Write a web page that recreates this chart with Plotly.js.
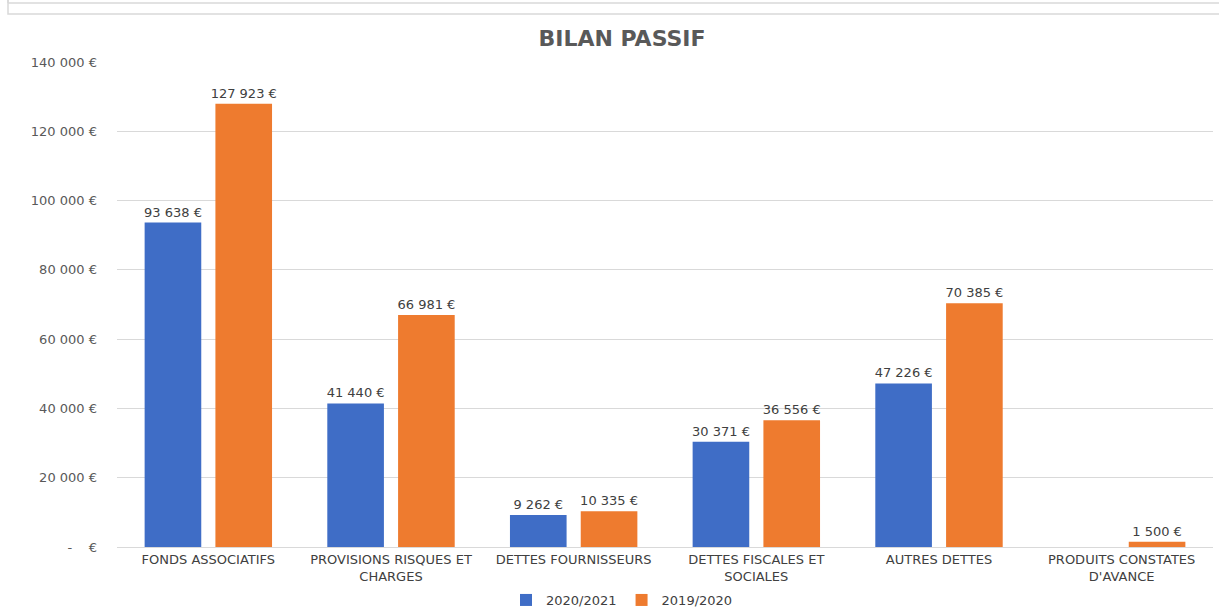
<!DOCTYPE html>
<html><head><meta charset="utf-8">
<script src="https://cdn.plot.ly/plotly-3.0.1.min.js"></script>
<style>html,body{margin:0;padding:0;background:#fff;}#chart{width:1219px;height:608px;}</style>
</head><body><div id="chart"></div>
<script>
const categories = ["FONDS ASSOCIATIFS","PROVISIONS RISQUES ET<br>CHARGES","DETTES FOURNISSEURS","DETTES FISCALES ET<br>SOCIALES","AUTRES DETTES","PRODUITS CONSTATES<br>D'AVANCE"];
const series1Name = "2020/2021";
const series1 = [93638, 41440, 9262, 30371, 47226, 0];
const series2Name = "2019/2020";
const series2 = [127923, 66981, 10335, 36556, 70385, 1500];
const tickVals = [0, 20000, 40000, 60000, 80000, 100000, 120000, 140000];
const tickText = ["-    €", "20 000 €", "40 000 €", "60 000 €", "80 000 €", "100 000 €", "120 000 €", "140 000 €"];

function fmt(v){ if(!v) return ""; return String(v).replace(/\B(?=(\d{3})+(?!\d))/g, " ") + " €"; }

const W = 1219, H = 608, L = 117, R = 6, T = 62, B = 61;
const pw = W - L - R, ph = H - T - B;
const px = x => (x - L) / pw;
const py = y => (H - B - y) / ph;
const FONT = "'DejaVu Sans', sans-serif";

const common = {type:"bar", textposition:"outside", cliponaxis:false, constraintext:"none",
  textfont:{family:FONT, size:13, color:"#404040"}, hoverinfo:"skip"};

const data = [
  Object.assign({}, common, {x:categories, y:series1, name:series1Name, text:series1.map(fmt),
    marker:{color:"#3f6dc6"}}),
  Object.assign({}, common, {x:categories, y:series2, name:series2Name, text:series2.map(fmt),
    marker:{color:"#ee7b2f"}})
];

const layout = {
  width:W, height:H,
  margin:{l:L, r:R, t:T, b:B, autoexpand:false},
  paper_bgcolor:"#fff", plot_bgcolor:"#fff",
  font:{family:FONT, color:"#595959", size:12},
  title:{text:"<b>BILAN PASSIF</b>", xref:"container", x:622/W, xanchor:"center", yref:"container", y:1-38/H, yanchor:"middle",
    font:{size:22, color:"#595959", family:FONT}},
  barmode:"group", bargap:0.225, bargroupgap:0.2,
  showlegend:true,
  legend:{orientation:"h", xref:"container", yref:"container", x:622/W, xanchor:"center", y:1-600/H, yanchor:"middle",
    font:{size:13, color:"#404040", family:FONT}, itemwidth:30, traceorder:"normal", bgcolor:"rgba(0,0,0,0)"},
  xaxis:{type:"category", showgrid:false, zeroline:false, showline:true, linecolor:"#d9d9d9", linewidth:1,
    ticks:"", tickfont:{size:13, color:"#404040", family:FONT}, automargin:false},
  yaxis:{range:[0,140000], tickvals:tickVals, ticktext:tickText, showgrid:true, gridcolor:"#d9d9d9",
    gridwidth:1, zeroline:false, showline:false, ticks:"", tickfont:{size:13, color:"#595959", family:FONT}, automargin:false,
    ticklabelstandoff:19},
  shapes:[
    {type:"rect", xref:"paper", yref:"paper", x0:px(8), x1:px(1230), y0:py(-10), y1:py(14),
      line:{color:"#d9d9d9", width:1.5}, fillcolor:"rgba(0,0,0,0)", layer:"below"},
    {type:"line", xref:"paper", yref:"paper", x0:px(8), x1:px(1219), y0:py(3), y1:py(3),
      line:{color:"#d9d9d9", width:1.5}},
    {type:"line", xref:"paper", yref:"paper", x0:px(8), x1:px(8), y0:py(-2), y1:py(3),
      line:{color:"#d9d9d9", width:1.5}}
  ]
};

Plotly.newPlot("chart", data, layout, {displayModeBar:false, staticPlot:true});
</script></body></html>
